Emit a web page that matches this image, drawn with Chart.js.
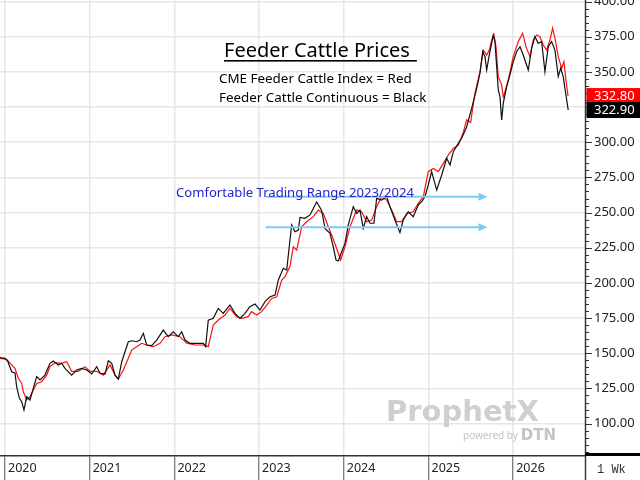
<!DOCTYPE html>
<html>
<head>
<meta charset="utf-8">
<script src="https://cdn.jsdelivr.net/npm/chart.js@4.4.1/dist/chart.umd.min.js"></script>
<style>
html,body{margin:0;padding:0;background:#fff;}
#wrap{width:640px;height:480px;position:relative;}
</style>
</head>
<body>
<div id="wrap"><canvas id="c" width="640" height="480"></canvas></div>
<script>
// ---- Data (decimal years, prices) ----
const yearTicks = [2020, 2021, 2022, 2023, 2024, 2025, 2026];
const yearLabels = ['2020', '2021', '2022', '2023', '2024', '2025', '2026'];
const priceTicks = [100, 125, 150, 175, 200, 225, 250, 275, 300, 325, 350, 375, 400];

// Feeder Cattle Continuous (black)
const blackDates = [
  2019.941,2020.000,2020.035,2020.079,2020.118,2020.138,2020.169,2020.197,2020.224,2020.256,
  2020.295,2020.334,2020.374,2020.413,2020.472,2020.531,2020.570,2020.629,2020.669,2020.708,
  2020.787,2020.846,2020.906,2020.965,2021.024,2021.083,2021.122,2021.181,2021.220,2021.260,
  2021.299,2021.338,2021.378,2021.417,2021.456,2021.496,2021.555,2021.594,2021.633,2021.673,
  2021.732,2021.791,2021.869,2021.928,2021.987,2022.046,2022.086,2022.125,2022.184,2022.263,
  2022.341,2022.369,2022.400,2022.459,2022.518,2022.577,2022.656,2022.715,2022.774,2022.833,
  2022.892,2022.952,2023.011,2023.070,2023.129,2023.188,2023.227,2023.286,2023.326,2023.356,
  2023.385,2023.424,2023.463,2023.483,2023.542,2023.601,2023.680,2023.739,2023.778,2023.837,
  2023.876,2023.908,2023.935,2023.975,2024.014,2024.053,2024.112,2024.152,2024.191,2024.230,
  2024.270,2024.309,2024.356,2024.388,2024.447,2024.506,2024.545,2024.604,2024.663,2024.702,
  2024.761,2024.820,2024.879,2024.920,2024.958,2024.997,2025.037,2025.097,2025.156,2025.215,
  2025.254,2025.293,2025.352,2025.392,2025.451,2025.510,2025.569,2025.608,2025.640,2025.667,
  2025.687,2025.718,2025.746,2025.765,2025.785,2025.805,2025.824,2025.844,2025.864,2025.883,
  2025.923,2025.962,2026.001,2026.041,2026.080,2026.119,2026.151,2026.178,2026.218,2026.257,
  2026.296,2026.336,2026.375,2026.414,2026.454,2026.493,2026.532,2026.561,2026.591,2026.611,
  2026.650
];
const blackValues = [
  147,146.4,144,136.9,136,126.2,118.2,115.6,109.7,119.1,
  116.8,125.1,133.4,131,134.5,142.9,144.5,141.7,142.9,139.3,
  134.5,138.1,139.3,138.1,135.3,140.5,135.8,135.3,144.7,142.9,
  134.5,131.7,144,151.1,158.2,158.9,158.2,159.4,164.2,155.9,
  155.5,159.4,166.5,161.8,165.3,161.8,165.3,159.4,157.1,157.1,
  157.1,154.7,173.6,174.8,181.9,178.4,184.3,178.4,174.8,178.4,
  183.1,185,180.7,186.7,190.2,191.4,202.1,210.4,209.2,225.7,
  241.2,236.4,237.6,246.6,245.9,248.3,257.5,251.5,238.8,235.3,
  225.7,216.3,215.6,222.2,228.1,241.2,254.2,249.4,251.8,238.8,
  247.1,242.4,242.4,260.1,258.9,261.3,254.2,244.7,235.7,244.7,
  250.6,247.1,255.4,257.7,261.3,269.6,279.1,266,276.7,288.6,
  283.8,293.3,299.2,302.8,311,324.1,338.3,349,364.3,360.8,
  351.3,362,370.3,376.2,371.5,353.7,337.1,332.4,315.8,327.6,
  339.5,347.8,357.3,364.3,367.9,362,356.1,351.3,366.7,375,
  370.3,371.5,350.1,367.9,371.5,365.5,346.6,352.6,346.6,338.3,
  322.9
];

// CME Feeder Cattle Index (red)
const redDates = [
  2019.941,2020.020,2020.059,2020.118,2020.157,2020.197,2020.216,2020.256,2020.295,2020.334,
  2020.374,2020.433,2020.492,2020.531,2020.590,2020.669,2020.728,2020.787,2020.865,2020.944,
  2021.004,2021.083,2021.161,2021.240,2021.299,2021.338,2021.397,2021.456,2021.496,2021.555,
  2021.614,2021.673,2021.751,2021.830,2021.889,2021.968,2022.066,2022.145,2022.243,2022.341,
  2022.400,2022.459,2022.518,2022.597,2022.656,2022.735,2022.794,2022.872,2022.912,2022.971,
  2023.031,2023.090,2023.149,2023.208,2023.267,2023.306,2023.365,2023.404,2023.444,2023.503,
  2023.562,2023.640,2023.699,2023.758,2023.817,2023.857,2023.916,2023.963,2024.014,2024.073,
  2024.152,2024.211,2024.270,2024.329,2024.388,2024.447,2024.506,2024.565,2024.624,2024.683,
  2024.742,2024.820,2024.879,2024.939,2024.997,2025.057,2025.116,2025.175,2025.234,2025.293,
  2025.352,2025.411,2025.451,2025.498,2025.529,2025.549,2025.608,2025.647,2025.687,2025.718,
  2025.746,2025.773,2025.797,2025.824,2025.864,2025.883,2025.903,2025.942,2026.001,2026.060,
  2026.112,2026.151,2026.198,2026.237,2026.277,2026.316,2026.355,2026.395,2026.434,2026.466,
  2026.493,2026.532,2026.572,2026.599,2026.623,2026.648
];
const redValues = [
  146.4,145.7,143,139.3,132.2,128.6,122.7,116.8,119.1,123.9,
  128.6,129.8,134.5,140.5,143.3,142.9,144,137.2,137.2,140.5,
  137.2,137.2,134.5,141.7,134.5,131.7,138.1,146.4,152.3,154.7,
  157.1,155.9,154.7,157.1,161.8,163,161.8,157.1,155.9,155.9,
  154.7,170.1,173.6,177.2,181.9,176,174.8,176,179.6,177.2,
  179.6,184.3,189,190.2,202.1,204.5,211.6,225.7,223.3,239.9,
  243.5,247.1,251.8,249.4,239.9,234.1,224.5,216.3,225.7,239.9,
  251.8,250.6,243.5,244.7,254.2,261.3,258.9,251.8,243.5,243.5,
  249.4,250.6,256.6,261.3,279.1,281.4,279.1,285,290.9,295.6,
  298,307,316,314,327,334.8,350.1,365.5,362,365.5,
  372.7,376.2,367.9,346.6,340.7,332,336,344.2,360.8,371.5,
  377.4,367.9,360.8,372.7,376.2,375,369.1,365.5,372.7,381,
  373.9,360.8,352.6,357.3,344.2,332.8
];

// Annotation: comfortable trading range 2023/2024
const rangeLevels = [261.3, 239.5];
const rangeSpan = [2023.076, 2025.697];

const lastRed = 332.80;
const lastBlack = 322.90;

const toPts = (xs, ys) => xs.map((x, i) => ({x: x, y: ys[i]}));

const FONT = '"Noto Sans", "DejaVu Sans", sans-serif';

const overlay = {
  id: 'overlay',
  beforeDatasetsDraw(chart) {
    const ctx = chart.ctx;
    ctx.save();
    ctx.textBaseline = 'alphabetic';
    ctx.textAlign = 'left';
    ctx.fillStyle = '#cfcfcf';
    ctx.font = 'bold 29px "DejaVu Sans"';
    ctx.fillText('ProphetX', 386, 421);
    ctx.fillStyle = '#c4c4c4';
    ctx.font = '10px ' + FONT;
    ctx.fillText('powered by', 463, 439);
    const pw = ctx.measureText('powered by').width;
    ctx.font = 'bold 15px "DejaVu Sans"';
    ctx.fillText('DTN', 463 + pw + 3, 440);
    ctx.restore();
  },
  afterDraw(chart) {
    const ctx = chart.ctx;
    const xs = chart.scales.x, ys = chart.scales.y;
    const axisX = chart.chartArea.right;
    ctx.save();

    // Title
    ctx.fillStyle = '#000';
    ctx.textAlign = 'left';
    ctx.textBaseline = 'alphabetic';
    ctx.font = '20px ' + FONT;
    const title = 'Feeder Cattle Prices';
    ctx.fillText(title, 224, 57);
    const tw = ctx.measureText(title).width;
    ctx.fillRect(224, 60, tw + 7, 1.6);

    ctx.font = '13.4px ' + FONT;
    ctx.fillText('CME Feeder Cattle Index = Red', 219, 83);
    ctx.fillText('Feeder Cattle Continuous = Black', 219, 102);

    // Range arrows
    ctx.strokeStyle = '#7ecbf3';
    ctx.fillStyle = '#7ecbf3';
    ctx.lineWidth = 2;
    rangeLevels.forEach(v => {
      const y = ys.getPixelForValue(v);
      const x1 = xs.getPixelForValue(rangeSpan[0]);
      const x2 = xs.getPixelForValue(rangeSpan[1]);
      ctx.beginPath();
      ctx.moveTo(x1, y);
      ctx.lineTo(x2 - 6, y);
      ctx.stroke();
      ctx.beginPath();
      ctx.moveTo(x2, y);
      ctx.lineTo(x2 - 9, y - 4);
      ctx.lineTo(x2 - 9, y + 4);
      ctx.closePath();
      ctx.fill();
    });

    ctx.fillStyle = '#2424d0';
    ctx.font = '13.1px ' + FONT;
    ctx.fillText('Comfortable Trading Range 2023/2024', 176, 197);

    // Right axis line
    ctx.strokeStyle = '#3a3a3a';
    ctx.lineWidth = 1.5;
    ctx.beginPath();
    ctx.moveTo(axisX + 0.5, 0);
    ctx.lineTo(axisX + 0.5, 480);
    ctx.stroke();

    // Minor / major ticks
    ctx.lineWidth = 1;
    ctx.strokeStyle = '#333';
    for (let v = 80; v <= 400; v += 5) {
      const y = Math.round(ys.getPixelForValue(v)) + 0.5;
      ctx.beginPath();
      ctx.moveTo(axisX, y);
      ctx.lineTo(axisX + (v % 25 === 0 ? 7 : 4), y);
      ctx.stroke();
    }

    // Thick bar at bottom of price axis
    ctx.fillStyle = '#000';
    ctx.fillRect(axisX, chart.chartArea.bottom - 3, 640 - axisX, 3);

    // Interval label
    ctx.fillStyle = '#333';
    ctx.font = '12px "Liberation Mono", "DejaVu Sans Mono", monospace';
    ctx.textBaseline = 'middle';
    ctx.fillText('1 Wk', 597, 470);

    // Last value tags
    const tag = (val, bg) => {
      const y = ys.getPixelForValue(val);
      ctx.fillStyle = bg;
      ctx.fillRect(axisX + 1.5, y - 8, 640 - axisX, 16);
      ctx.fillStyle = '#fff';
      ctx.font = '13px ' + FONT;
      ctx.textBaseline = 'middle';
      ctx.fillText(val.toFixed(2), 594, y + 0.5);
    };
    tag(lastRed, '#ff0000');
    tag(lastBlack, '#000000');

    ctx.restore();
  }
};

new Chart(document.getElementById('c'), {
  type: 'line',
  data: {
    datasets: [
      {
        label: 'Feeder Cattle Continuous',
        data: toPts(blackDates, blackValues),
        borderColor: '#111111',
        borderWidth: 1.2,
        pointRadius: 0,
        tension: 0,
        fill: false
      },
      {
        label: 'CME Feeder Cattle Index',
        data: toPts(redDates, redValues),
        borderColor: '#ff1010',
        borderWidth: 1.2,
        pointRadius: 0,
        tension: 0,
        fill: false
      }
    ]
  },
  options: {
    responsive: false,
    animation: false,
    devicePixelRatio: 1,
    layout: {padding: 0},
    plugins: {legend: {display: false}, tooltip: {enabled: false}},
    scales: {
      x: {
        type: 'linear',
        position: 'bottom',
        min: 2019.941,
        max: 2026.848,
        afterBuildTicks: s => { s.ticks = yearTicks.map(v => ({value: v})); },
        afterFit: s => { s.height = 24; s.paddingLeft = 0; s.paddingRight = 0; },
        grid: {color: '#e6e6e6', lineWidth: 1.5, tickLength: 24, tickColor: '#555', tickWidth: 1},
        border: {color: '#333', width: 1.5},
        ticks: {
          align: 'start',
          labelOffset: 3,
          padding: -19,
          maxRotation: 0,
          autoSkip: false,
          color: '#222',
          font: {family: 'Noto Sans', size: 12.5},
          callback: (v, i) => yearLabels[i]
        }
      },
      y: {
        type: 'linear',
        position: 'right',
        min: 77.0,
        max: 401.07,
        afterBuildTicks: s => { s.ticks = priceTicks.map(v => ({value: v})); },
        afterFit: s => { s.width = 55; s.paddingTop = 0; s.paddingBottom = 0; },
        grid: {color: '#e6e6e6', lineWidth: 1.5, drawTicks: false},
        border: {display: false},
        ticks: {
          padding: 9,
          color: '#222',
          font: {family: 'Noto Sans', size: 13},
          callback: v => Number(v).toFixed(2)
        }
      }
    }
  },
  plugins: [overlay]
});
</script>
</body>
</html>
